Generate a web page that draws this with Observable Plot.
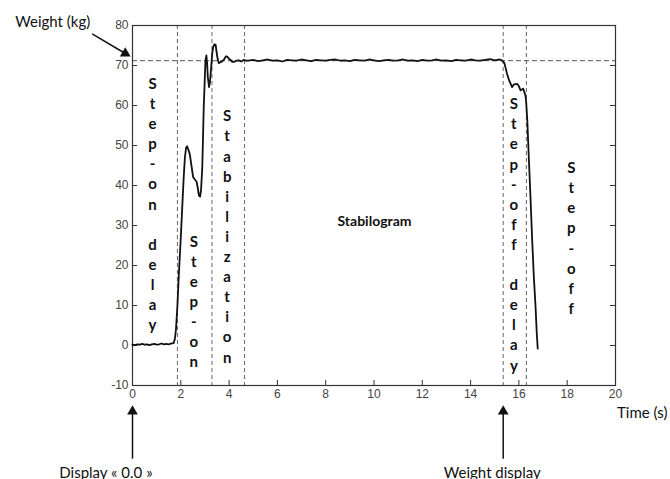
<!DOCTYPE html>
<html>
<head>
<meta charset="utf-8">
<script src="https://cdn.jsdelivr.net/npm/d3@7"></script>
<script src="https://cdn.jsdelivr.net/npm/@observablehq/plot@0.6"></script>
<style>
  html, body { margin: 0; padding: 0; background: #fff; }
</style>
</head>
<body>
<div id="chart"></div>
<script>
// ---- data ----
const time = [
  0, 0.1, 0.2, 0.3, 0.4, 0.5, 0.6, 0.7, 0.8, 0.9, 1.0, 1.1, 1.2, 1.3, 1.4, 1.5, 1.6, 1.7,
  1.75, 1.8, 1.86, 1.92, 2.0, 2.06, 2.12, 2.17, 2.22, 2.26, 2.31, 2.37, 2.44, 2.51, 2.58, 2.65,
  2.7, 2.75, 2.8, 2.84, 2.89, 2.92, 2.95, 2.99, 3.02, 3.06, 3.09, 3.12, 3.17, 3.21, 3.26, 3.3,
  3.34, 3.39, 3.44, 3.48, 3.52, 3.57, 3.63, 3.71, 3.8, 3.87, 3.92, 3.99, 4.06, 4.13, 4.2, 4.3,
  4.4, 4.5, 4.6, 4.7, 4.8, 5.0, 5.2, 5.4, 5.6, 5.8, 6.0, 6.2, 6.4, 6.6, 6.8, 7.0, 7.2, 7.4,
  7.6, 7.8, 8.0, 8.2, 8.4, 8.6, 8.8, 9.0, 9.2, 9.4, 9.6, 9.8, 10.0, 10.2, 10.4, 10.6, 10.8,
  11.0, 11.2, 11.4, 11.6, 11.8, 12.0, 12.2, 12.4, 12.6, 12.8, 13.0, 13.2, 13.4, 13.6, 13.8,
  14.0, 14.2, 14.4, 14.6, 14.8, 15.0, 15.2, 15.3,
  15.4, 15.51, 15.6, 15.72, 15.8, 15.93, 16.0, 16.07, 16.18, 16.27, 16.3, 16.35, 16.41, 16.48,
  16.55, 16.62, 16.69, 16.74, 16.78
];
const weight = [
  0.2, 0.1, 0.3, 0.2, 0.4, 0.2, 0.3, 0.1, 0.3, 0.4, 0.2, 0.3, 0.5, 0.3, 0.4, 0.3, 0.5, 0.6,
  1.5, 4, 10, 18, 27, 34.6, 42, 47, 49.5, 49.8, 49, 47.9, 45, 42.1, 41.5, 41,
  39.5, 37.5, 37.2, 39, 44.6, 52, 59.6, 66, 71.2, 72.5, 70.5, 67, 64.6, 66, 69.6, 73,
  74.6, 75.3, 75.2, 73.5, 71.8, 70.6, 70.8, 71.0, 71.6, 72.3, 72.2, 71.7, 71.4, 70.9, 70.9, 71.2,
  71.3, 71.0, 71.4, 71.2, 71.2, 71.4, 71.1, 71.3, 71.5, 71.2, 71.3, 71.0, 71.4, 71.3, 71.2, 71.5, 71.3, 71.1,
  71.4, 71.3, 71.2, 71.4, 71.5, 71.2, 71.3, 71.1, 71.4, 71.3, 71.2, 71.5, 71.3, 71.1, 71.3, 71.4, 71.2,
  71.3, 71.5, 71.2, 71.3, 71.1, 71.4, 71.2, 71.3, 71.5, 71.2, 71.3, 71.1, 71.4, 71.3, 71.2,
  71.5, 71.3, 71.2, 71.4, 71.6, 71.3, 71.5, 71.3,
  70.6, 67.9, 66.2, 64.6, 65.3, 65.4, 64.8, 63.8, 64.2, 62.5, 61, 56, 47, 37,
  26.3, 17, 9.6, 3, -0.8
];

const xTicks = [0, 2, 4, 6, 8, 10, 12, 14, 16, 18, 20];
const yTicks = [-10, 0, 10, 20, 30, 40, 50, 60, 70, 80];
const phaseBounds = [1.86, 3.29, 4.64, 15.35, 16.31];
const displayedWeight = [71.2];

const labelText = ["Step-on\n\ndelay", "Step-on", "Stabilization", "Step-off\n\ndelay", "Step-off"];
const labelX = [0.83, 2.54, 3.92, 15.79, 18.17];
const labelY = [35.6, 11.2, 27.5, 28.0, 27.1];

const centerLabel = ["Stabilogram"];
const centerX = [10.02];
const centerY = [31];

const noteText = ["Weight (kg)", "Display « 0.0 »", "Weight display"];
const noteX = [-3.3, -1.1, 14.9];
const noteY = [80.8, -31.8, -31.8];

const axisTitle = ["Time (s)"];
const axisTitleX = [22.15];
const axisTitleY = [-16.8];

// arrows: start (x1,y1) -> head centre (x2,y2), head rotation
const arrowX1 = [-1.67, 0, 15.35];
const arrowY1 = [77.9, -28.3, -28.3];
const arrowX2 = [-0.3, 0, 15.35];
const arrowY2 = [73.0, -16.5, -16.5];
const arrowRot = [120, 0, 0];

// ---- build tables ----
const series = time.map((t, i) => ({t, w: weight[i]}));
const splitLetters = s => s.split("\n").map(part => part.split("").join("\n")).join("\n");
const phaseLabels = labelText.map((s, i) => ({text: splitLetters(s), x: labelX[i], y: labelY[i]}));
const centers = centerLabel.map((s, i) => ({text: s, x: centerX[i], y: centerY[i]}));
const notes = noteText.map((s, i) => ({text: s, x: noteX[i], y: noteY[i]}));
const titles = axisTitle.map((s, i) => ({text: s, x: axisTitleX[i], y: axisTitleY[i]}));
const arrows = arrowX1.map((x1, i) => ({x1, y1: arrowY1[i], x2: arrowX2[i], y2: arrowY2[i], rot: arrowRot[i]}));
const innerY = yTicks.filter(d => d > -10 && d < 80);
const innerX = xTicks.filter(d => d > 0 && d < 20);

const plotW = 670 - 132 - 55;
const plotH = 479 - 25 - 94;
const noteFont = "Lato, 'Open Sans', sans-serif";

const chart = Plot.plot({
  width: 670,
  height: 479,
  marginLeft: 132,
  marginRight: 55,
  marginTop: 25,
  marginBottom: 94,
  x: {domain: [0, 20]},
  y: {domain: [-10, 80]},
  style: {fontFamily: "'Liberation Sans', Arial, sans-serif", fontSize: "12px", background: "white", color: "#333"},
  marks: [
    Plot.ruleX(phaseBounds, {stroke: "#666", strokeDasharray: "4,3", strokeWidth: 1}),
    Plot.ruleY(displayedWeight, {stroke: "#555", strokeDasharray: "5,3", strokeWidth: 1}),
    Plot.ruleX(innerX, {stroke: "#333", insetTop: plotH - 5}),
    Plot.ruleY(innerY, {stroke: "#333", insetRight: plotW - 5}),
    Plot.ruleY(innerY, {stroke: "#333", insetLeft: plotW - 5}),
    Plot.frame({stroke: "#333", strokeWidth: 1.2}),
    Plot.axisX({ticks: xTicks, tickSize: 0, tickPadding: 4, label: null, tickFormat: d => String(d), fill: "#444"}),
    Plot.axisY({ticks: yTicks, tickSize: 0, tickPadding: 4, label: null, tickFormat: d => String(d), fill: "#444"}),
    Plot.line(series, {x: "t", y: "w", stroke: "#111", strokeWidth: 1.8, strokeLinejoin: "round"}),
    Plot.text(phaseLabels, {x: "x", y: "y", text: "text", fontFamily: noteFont, fontWeight: "bold", fontSize: 15, lineHeight: 1.34, lineAnchor: "middle", fill: "#111"}),
    Plot.text(centers, {x: "x", y: "y", text: "text", fontFamily: noteFont, fontWeight: "bold", fontSize: 14, fill: "#111"}),
    Plot.text(notes, {x: "x", y: "y", text: "text", textAnchor: "middle", fontFamily: noteFont, fontSize: 15, fill: "#111"}),
    Plot.text(titles, {x: "x", y: "y", text: "text", textAnchor: "end", fontFamily: noteFont, fontSize: 15, fill: "#111"}),
    Plot.link(arrows, {x1: "x1", y1: "y1", x2: "x2", y2: "y2", stroke: "#111", strokeWidth: 1.5}),
    Plot.dot(arrows, {x: "x2", y: "y2", symbol: "triangle", r: 4, fill: "#111", stroke: "none", rotate: "rot"})
  ]
});
document.getElementById("chart").append(chart);
</script>
</body>
</html>
